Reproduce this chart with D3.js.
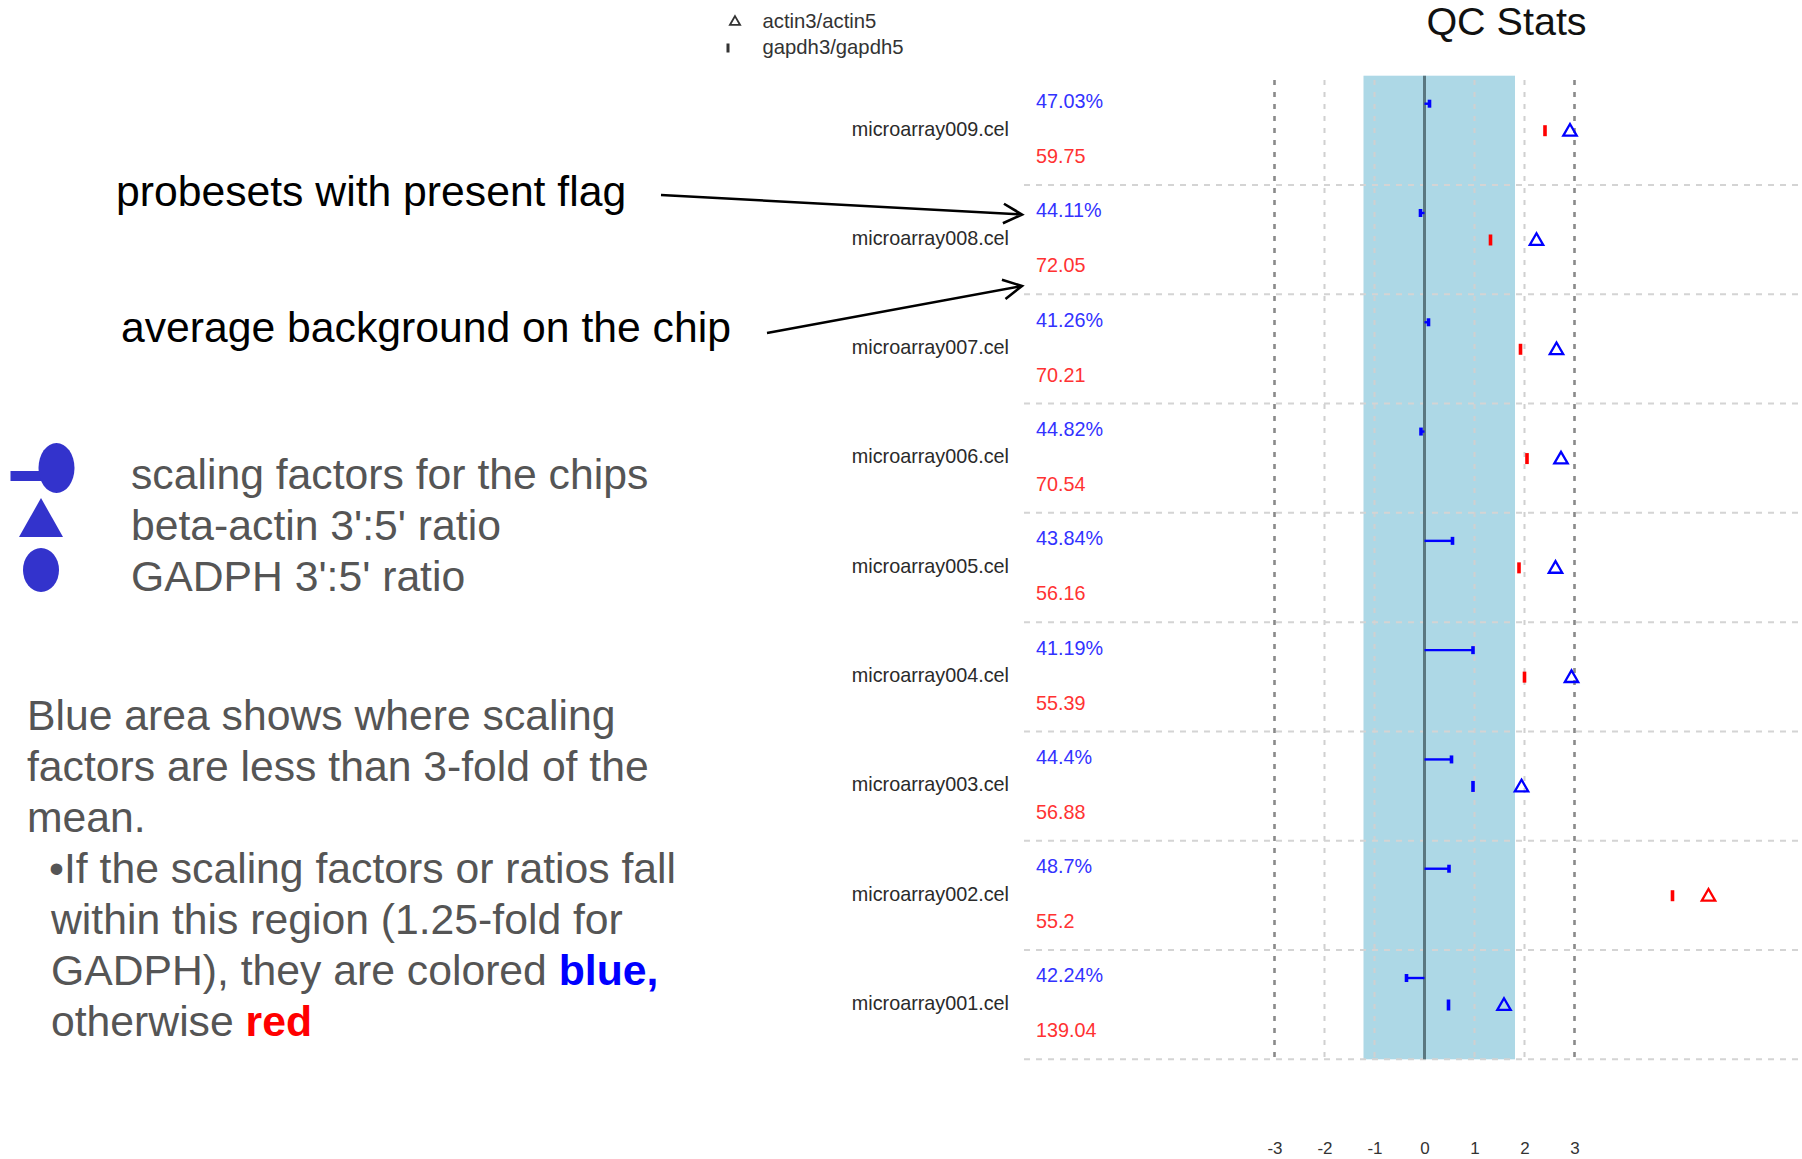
<!DOCTYPE html>
<html><head><meta charset="utf-8">
<script src="https://cdn.jsdelivr.net/npm/d3@7"></script>
<style>
html,body{margin:0;padding:0;background:#fff;overflow:hidden;}
svg{display:block;font-family:"Liberation Sans",Arial,Helvetica,sans-serif;}
</style></head><body>
<svg id="c" width="1802" height="1159"></svg>
<script>
// ---- data (top row first) ----
const chips = ["microarray009.cel","microarray008.cel","microarray007.cel","microarray006.cel",
               "microarray005.cel","microarray004.cel","microarray003.cel","microarray002.cel","microarray001.cel"];
const presentPct = ["47.03%","44.11%","41.26%","44.82%","43.84%","41.19%","44.4%","48.7%","42.24%"];
const background = ["59.75","72.05","70.21","70.54","56.16","55.39","56.88","55.2","139.04"];
const scalingFactor = [0.10, -0.08, 0.08, -0.07, 0.56, 0.97, 0.54, 0.49, -0.36];
const actinRatio = [2.91, 2.24, 2.64, 2.73, 2.62, 2.94, 1.94, 5.68, 1.59];
const gapdhRatio = [2.41, 1.32, 1.92, 2.05, 1.89, 2.00, 0.97, 4.96, 0.48];
const tickValues = [-3, -2, -1, 0, 1, 2, 3];
const tickLabels = ["-3", "-2", "-1", "0", "1", "2", "3"];
const blueRange = [-1.22, 1.81];
const strongGrid = [-3, 3];
const lightGrid = [-2, -1, 1, 2];
const actinLimit = 3, gapdhLimit = 1.25;
const legendLabels = ["actin3/actin5", "gapdh3/gapdh5"];
const title = "QC Stats";

const BLUE = "#0000ff", RED = "#ff0000";
const svg = d3.select("#c");

// ---- scales ----
const x = d3.scaleLinear().domain([-3, 3]).range([1274.5, 1574.5]);
const y = d3.scaleBand().domain(chips).range([75.7, 1059.3]).padding(0);
const bw = y.bandwidth();

// blue area
svg.append("rect")
  .attr("x", x(blueRange[0])).attr("width", x(blueRange[1]) - x(blueRange[0]))
  .attr("y", y.range()[0]).attr("height", y.range()[1] - y.range()[0])
  .attr("fill", "#add8e6");

// vertical grid
svg.selectAll("line.lg").data(lightGrid).join("line").attr("class","lg")
  .attr("x1", d => x(d)).attr("x2", d => x(d)).attr("y1", 80).attr("y2", 1059)
  .attr("stroke", "#d0d0d0").attr("stroke-width", 2).attr("stroke-dasharray", "5,7");
svg.selectAll("line.sg").data(strongGrid).join("line").attr("class","sg")
  .attr("x1", d => x(d)).attr("x2", d => x(d)).attr("y1", 80).attr("y2", 1059)
  .attr("stroke", "#8a8a8a").attr("stroke-width", 2.6).attr("stroke-dasharray", "5,7");

// horizontal row separators
svg.selectAll("line.hs").data(chips).join("line").attr("class","hs")
  .attr("x1", 1024).attr("x2", 1802)
  .attr("y1", d => y(d) + bw).attr("y2", d => y(d) + bw)
  .attr("stroke", "#d4d4d4").attr("stroke-width", 2).attr("stroke-dasharray", "6,6");

// zero line
svg.append("line").attr("x1", x(0)).attr("x2", x(0))
  .attr("y1", y.range()[0]).attr("y2", y.range()[1])
  .attr("stroke", "#5a7780").attr("stroke-width", 3);

// axis
const axis = d3.axisBottom(x).tickValues(tickValues).tickSize(0).tickPadding(0)
  .tickFormat((d, i) => tickLabels[i]);
const ag = svg.append("g").attr("transform", "translate(0,1142.4)").call(axis);
ag.select(".domain").remove();
ag.selectAll("text").attr("font-size", 17).attr("fill", "#333")
  .attr("font-family", "'Liberation Sans',Arial,sans-serif");

// rows
const rows = svg.selectAll("g.row").data(chips).join("g").attr("class","row")
  .attr("transform", d => `translate(0,${y(d)})`);

rows.append("text").text(d => d)
  .attr("x", 1009).attr("y", bw * 0.548).attr("text-anchor", "end")
  .attr("font-size", 19.8).attr("fill", "#2a2a2a");
rows.append("text").text((d, i) => presentPct[i])
  .attr("x", 1036).attr("y", bw * 0.297)
  .attr("font-size", 19.8).attr("fill", "#3232ff");
rows.append("text").text((d, i) => background[i])
  .attr("x", 1036).attr("y", bw * 0.8)
  .attr("font-size", 19.8).attr("fill", "#ff3232");

// scaling factor lollipops
rows.append("line")
  .attr("x1", x(0)).attr("x2", (d, i) => x(scalingFactor[i]))
  .attr("y1", 28).attr("y2", 28)
  .attr("stroke", BLUE).attr("stroke-width", 2.4);
rows.append("rect")
  .attr("x", (d, i) => x(scalingFactor[i]) - 1.8).attr("y", 24)
  .attr("width", 3.6).attr("height", 8).attr("fill", BLUE);

// gapdh ticks
rows.append("rect")
  .attr("x", (d, i) => x(gapdhRatio[i]) - 1.8).attr("y", 55 - 5.5)
  .attr("width", 3.6).attr("height", 11)
  .attr("fill", (d, i) => gapdhRatio[i] > gapdhLimit ? RED : BLUE);

// actin triangles
const tri = d3.symbol().type(d3.symbolTriangle).size(78);
rows.append("path").attr("d", tri)
  .attr("transform", (d, i) => `translate(${x(actinRatio[i])},${56})`)
  .attr("fill", "none").attr("stroke-width", 2.3)
  .attr("stroke", (d, i) => actinRatio[i] > actinLimit ? RED : BLUE);

// title
svg.append("text").text(title).attr("x", 1506.5).attr("y", 35)
  .attr("text-anchor", "middle").attr("font-size", 39.5).attr("fill", "#111");

// top legend
svg.append("path").attr("d", d3.symbol().type(d3.symbolTriangle).size(45))
  .attr("transform", "translate(735,22)").attr("fill", "none")
  .attr("stroke", "#333").attr("stroke-width", 1.8);
svg.append("rect").attr("x", 726.5).attr("y", 43.5).attr("width", 3).attr("height", 9).attr("fill", "#333");
svg.selectAll("text.leg").data(legendLabels).join("text").attr("class","leg")
  .text(d => d).attr("x", 762.5).attr("y", (d, i) => 28.3 + i * 26)
  .attr("font-size", 20.3).attr("fill", "#333");

// ---- annotations ----
const FS = 42.7;
svg.append("text").text("probesets with present flag").attr("x", 116).attr("y", 205.5)
  .attr("font-size", FS).attr("fill", "#000");
svg.append("text").text("average background on the chip").attr("x", 121).attr("y", 341.5)
  .attr("font-size", FS).attr("fill", "#000");

function arrow(x1, y1, x2, y2) {
  const a = Math.atan2(y2 - y1, x2 - x1), L = 21, h = Math.PI / 6.5;
  const p = d3.path();
  p.moveTo(x1, y1); p.lineTo(x2, y2);
  p.moveTo(x2 - L * Math.cos(a - h), y2 - L * Math.sin(a - h));
  p.lineTo(x2, y2);
  p.lineTo(x2 - L * Math.cos(a + h), y2 - L * Math.sin(a + h));
  svg.append("path").attr("d", p.toString()).attr("fill", "none")
    .attr("stroke", "#000").attr("stroke-width", 2.6).attr("stroke-linejoin", "miter");
}
arrow(661, 195, 1022, 214.5);
arrow(767, 333, 1022, 286);

// left symbol legend
const SYM = "#3333cc";
svg.append("rect").attr("x", 10.5).attr("y", 471).attr("width", 32).attr("height", 10).attr("fill", SYM);
svg.append("ellipse").attr("cx", 56.5).attr("cy", 468).attr("rx", 18).attr("ry", 25).attr("fill", SYM);
svg.append("path").attr("d", "M19,537L63,537L41,498Z").attr("fill", SYM);
svg.append("ellipse").attr("cx", 41).attr("cy", 570).attr("rx", 18).attr("ry", 22).attr("fill", SYM);

const symText = ["scaling factors for the chips", "beta-actin 3':5' ratio", "GADPH 3':5' ratio"];
svg.selectAll("text.sym").data(symText).join("text").attr("class","sym")
  .text(d => d).attr("x", 131).attr("y", (d, i) => 488.5 + i * 51)
  .attr("font-size", FS).attr("fill", "#555");

const para = [
  {x: 27, y: 730, parts: [["Blue area shows where scaling"]]},
  {x: 27, y: 781, parts: [["factors are less than 3-fold of the"]]},
  {x: 27, y: 832, parts: [["mean."]]},
  {x: 49, y: 883, parts: [["\u2022If the scaling factors or ratios fall"]]},
  {x: 51, y: 934, parts: [["within this region (1.25-fold for"]]},
  {x: 51, y: 985, parts: [["GADPH), they are colored "], ["blue,", "#0000ff"]]},
  {x: 51, y: 1036, parts: [["otherwise "], ["red", "#ff0000"]]}
];
para.forEach(l => {
  const t = svg.append("text").attr("x", l.x).attr("y", l.y).attr("font-size", FS).attr("fill", "#555");
  l.parts.forEach(p => {
    const s = t.append("tspan").text(p[0]);
    if (p[1]) s.attr("fill", p[1]).attr("font-weight", "bold");
  });
});
</script>
</body></html>
